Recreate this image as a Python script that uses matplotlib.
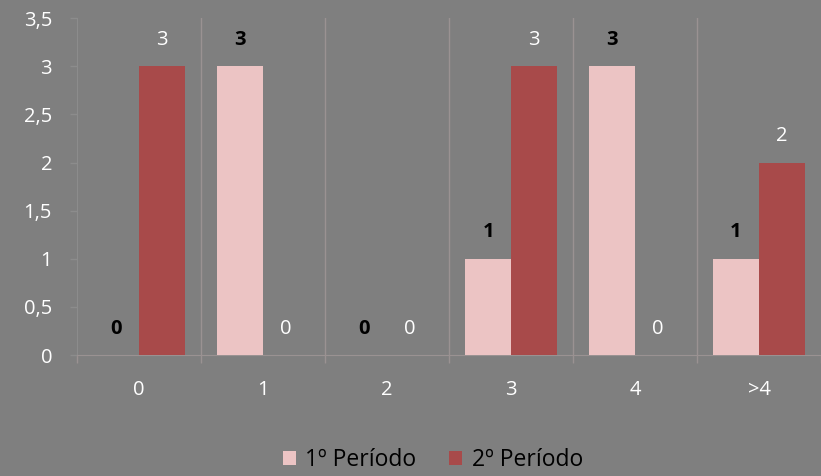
import matplotlib
matplotlib.use("Agg")
import matplotlib.pyplot as plt
import numpy as np

categories = ["0", "1", "2", "3", "4", ">4"]
periodo1 = [0, 3, 0, 1, 3, 1]
periodo2 = [3, 0, 0, 3, 0, 2]
series_names = ["1º Período", "2º Período"]
yticks = [0, 0.5, 1, 1.5, 2, 2.5, 3, 3.5]

BG = "#7f7f7f"
PINK = "#ecc4c4"
RED = "#a84a4a"
LINE = "#9a9292"

plt.rcParams["font.family"] = ["Open Sans", "DejaVu Sans"]

fig = plt.figure(figsize=(8.21, 4.76), dpi=100, facecolor=BG)
ax = fig.add_axes([0.0938, 0.254, 1 - 0.0938, 0.962 - 0.254])
ax.set_facecolor(BG)

x = np.arange(len(categories))
w = 0.37
b1 = ax.bar(x - w / 2, periodo1, w, color=PINK, label=series_names[0], zorder=3)
b2 = ax.bar(x + w / 2, periodo2, w, color=RED, label=series_names[1], zorder=3)

for xi, v in zip(x - w / 2, periodo1):
    ax.annotate(str(v), (xi, v), xytext=(0, 19), textcoords="offset points",
                ha="center", va="center", fontsize=14.5, fontweight="bold", color="black")
for xi, v in zip(x + w / 2, periodo2):
    ax.annotate(str(v), (xi, v), xytext=(0, 19), textcoords="offset points",
                ha="center", va="center", fontsize=14.5, color="white")

ax.set_xlim(-0.5, len(categories) - 0.5)
ax.set_ylim(0, 3.5)

# separators between categories
for bx in np.arange(0.5, len(categories) - 0.5, 1):
    ax.axvline(bx, color=LINE, lw=1, zorder=1)

ax.set_xticks(np.arange(-0.5, len(categories), 1))
ax.set_xticklabels([])
ax.set_xticks(x, minor=True)
ax.set_xticklabels(categories, minor=True)
ax.tick_params(axis="x", which="major", length=6, color=LINE, width=1)
ax.tick_params(axis="x", which="minor", length=0, pad=18, labelsize=14.5, labelcolor="white")

ax.set_yticks(yticks)
ax.set_yticklabels([f"{t:g}".replace(".", ",") for t in yticks])
ax.tick_params(axis="y", length=5, color="#8c8c8c", width=1, pad=13,
               labelsize=14.5, labelcolor="white")

for s in ["top", "right"]:
    ax.spines[s].set_visible(False)
ax.spines["left"].set_color("#8c8c8c")
ax.spines["bottom"].set_color(LINE)

fig.legend(handles=[b1, b2], labels=series_names, loc="lower center",
           bbox_to_anchor=(0.527, -0.035), ncol=2, frameon=False, fontsize=16.5,
           handlelength=0.6, handleheight=0.6, handletextpad=0.4, columnspacing=1.4,
           labelcolor="black")

fig.savefig("out.png", dpi=100, facecolor=BG)
